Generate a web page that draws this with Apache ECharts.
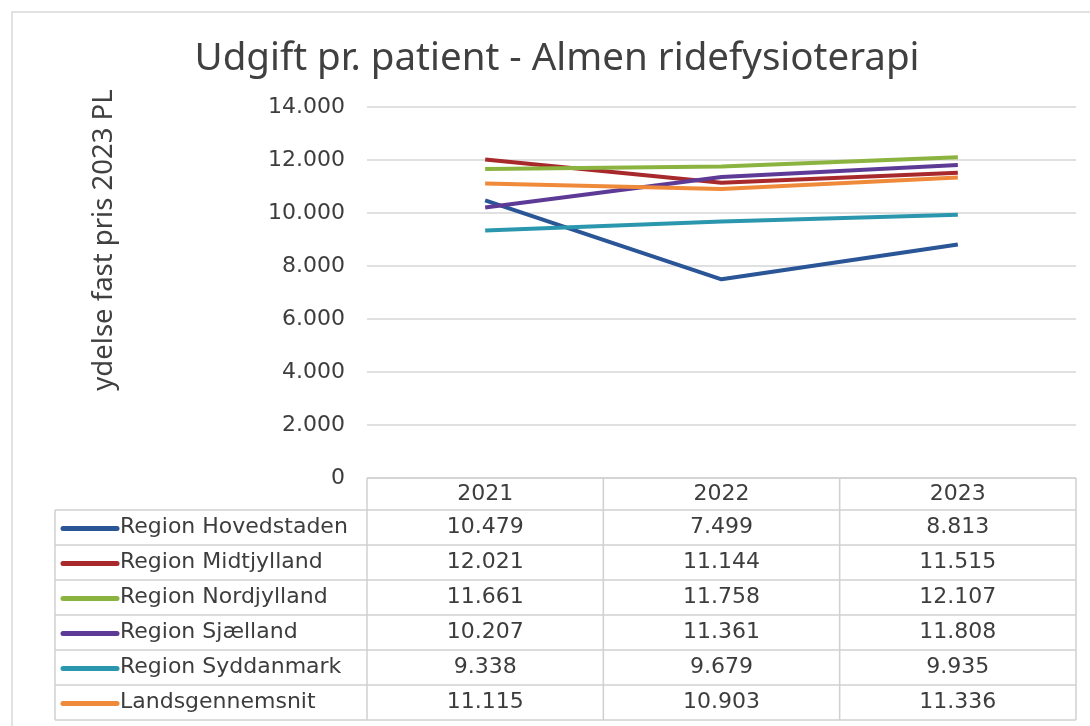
<!DOCTYPE html>
<html>
<head>
<meta charset="utf-8">
<script src="https://cdn.jsdelivr.net/npm/echarts@6/dist/echarts.min.js"></script>
<style>
  html, body { margin: 0; padding: 0; background: #fff; }
  #chart { width: 1090px; height: 726px; }
</style>
</head>
<body>
<div id="chart"></div>
<script>
var years = ['2021', '2022', '2023'];
var regionNames = ['Region Hovedstaden', 'Region Midtjylland', 'Region Nordjylland',
                   'Region Sjælland', 'Region Syddanmark', 'Landsgennemsnit'];
var hovedstaden = [10479, 7499, 8813];
var midtjylland = [12021, 11144, 11515];
var nordjylland = [11661, 11758, 12107];
var sjaelland = [10207, 11361, 11808];
var syddanmark = [9338, 9679, 9935];
var landsgennemsnit = [11115, 10903, 11336];
var colors = ['#2a5596', '#a8292b', '#8ab43f', '#5c3a96', '#2a97ae', '#f08a3b'];

var values = [hovedstaden, midtjylland, nordjylland, sjaelland, syddanmark, landsgennemsnit];

function fmt(v){
    return String(v).replace(/\B(?=(\d{3})+(?!\d))/g, '.');
}

var chart = echarts.init(document.getElementById('chart'));
var gridLeft = 367, gridRight = 1076, gridTop = 107, gridBottom = 478;
var textColor = '#3d3d3d';
var tableFont = '"DejaVu Sans", "Noto Sans", sans-serif';
var tableSize = 22;

var series = [];
for(var i = 0; i < regionNames.length; i++){
    series.push({
        name: regionNames[i],
        type: 'line',
        data: values[i],
        symbol: 'none',
        lineStyle: { width: 4, color: colors[i] },
        itemStyle: { color: colors[i] }
    });
}

chart.setOption({
    backgroundColor: '#fff',
    animation: false,
    grid: { left: gridLeft, right: 1090 - gridRight, top: gridTop, bottom: 726 - gridBottom },
    xAxis: {
        type: 'category',
        data: years,
        boundaryGap: true,
        axisLine: { show: false },
        axisTick: { show: false },
        axisLabel: { show: false }
    },
    yAxis: {
        type: 'value',
        min: 0,
        max: 14000,
        interval: 2000,
        axisLine: { show: false },
        axisTick: { show: false },
        axisLabel: {
            margin: 22,
            fontFamily: tableFont,
            fontSize: tableSize,
            color: textColor,
            formatter: fmt
        },
        splitLine: { lineStyle: { color: '#d6d6d6', width: 1.5 } }
    },
    series: series
});

// data table below the plot, positioned from the category axis
var els = [];
var centers = years.map(function(y){ return chart.convertToPixel({ xAxisIndex: 0 }, y); });
var band = centers.length > 1 ? centers[1] - centers[0] : (gridRight - gridLeft);
var headTop = gridBottom, headH = 32, rowH = 35, legLeft = 55;
var rowsTop = headTop + headH;
var tableBottom = rowsTop + rowH * regionNames.length;
var border = { stroke: '#d0d0d0', lineWidth: 1.5 };
var font = tableSize + 'px ' + tableFont;

function line(x1, y1, x2, y2){
    els.push({ type: 'line', shape: { x1: x1, y1: y1, x2: x2, y2: y2 }, style: border, silent: true });
}

// outer frame
els.push({ type: 'rect', shape: { x: 12, y: 12, width: 1200, height: 900 },
           style: { fill: 'none', stroke: '#d9d9d9', lineWidth: 1.5 }, silent: true });

// horizontal lines
line(gridLeft, headTop, gridRight, headTop);
for(var r = 0; r <= regionNames.length; r++){
    line(legLeft, rowsTop + r * rowH, gridRight, rowsTop + r * rowH);
}
// vertical lines
line(legLeft, rowsTop, legLeft, tableBottom);
for(var c = 0; c <= years.length; c++){
    var bx = (c < years.length) ? centers[c] - band / 2 : centers[c - 1] + band / 2;
    line(bx, headTop, bx, tableBottom);
}
// header
for(var j = 0; j < years.length; j++){
    els.push({ type: 'text', x: centers[j], y: headTop + headH / 2, silent: true,
               style: { text: years[j], fill: textColor, font: font,
                        align: 'center', verticalAlign: 'middle' } });
}
// rows
for(var k = 0; k < regionNames.length; k++){
    var cy = rowsTop + rowH * k + rowH / 2;
    els.push({ type: 'line', shape: { x1: 63, y1: cy + 1, x2: 117, y2: cy + 1 }, silent: true,
               style: { stroke: colors[k], lineWidth: 5, lineCap: 'round' } });
    els.push({ type: 'text', x: 120, y: cy, silent: true,
               style: { text: regionNames[k], fill: textColor, font: font,
                        align: 'left', verticalAlign: 'middle' } });
    for(var m = 0; m < years.length; m++){
        els.push({ type: 'text', x: centers[m], y: cy, silent: true,
                   style: { text: fmt(values[k][m]), fill: textColor, font: font,
                            align: 'center', verticalAlign: 'middle' } });
    }
}
// title
els.push({ type: 'text', x: 557, y: 59, silent: true,
           style: { text: 'Udgift pr. patient - Almen ridefysioterapi', fill: '#404040',
                    font: '38.5px "Noto Sans"', align: 'center', verticalAlign: 'middle' } });
// y axis name
els.push({ type: 'text', x: 104, y: 240, rotation: Math.PI / 2, silent: true,
           style: { text: 'ydelse fast pris 2023 PL', fill: '#404040',
                    font: '27.5px "Noto Sans"', align: 'center', verticalAlign: 'middle' } });

chart.setOption({ graphic: { elements: els } });
</script>
</body>
</html>
